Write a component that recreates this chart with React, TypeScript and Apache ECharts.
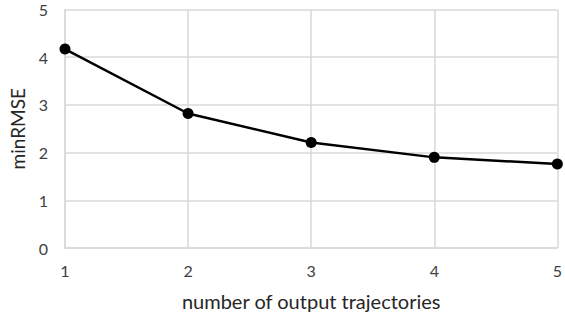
import React, { useEffect, useRef } from "react";
import * as echarts from "echarts";

const xValues = [1, 2, 3, 4, 5];
const minRMSE = [4.17, 2.82, 2.21, 1.9, 1.76];
const xTitle = "number of output trajectories";
const yTitle = "minRMSE";

export default function App() {
  const ref = useRef<HTMLDivElement>(null);
  useEffect(() => {
    if (!ref.current) return;
    const chart = echarts.init(ref.current, undefined, { renderer: "svg" });
    const font = "Lato, 'Open Sans', sans-serif";
    chart.setOption({
      animation: false,
      backgroundColor: "#ffffff",
      grid: { left: 59, right: 5, top: 9.5, bottom: 69, containLabel: false },
      xAxis: {
        type: "value",
        min: 1,
        max: 5,
        interval: 1,
        name: xTitle,
        nameLocation: "middle",
        nameGap: 43,
        nameTextStyle: { fontFamily: font, fontSize: 20, color: "#262626" },
        axisLine: { show: true, lineStyle: { color: "#d9d9d9", width: 1.5 } },
        axisTick: { show: false },
        axisLabel: { fontFamily: font, fontSize: 16, color: "#404040", margin: 14 },
        splitLine: { show: true, lineStyle: { color: "#d9d9d9", width: 1.5 } },
      },
      yAxis: {
        type: "value",
        min: 0,
        max: 5,
        interval: 1,
        name: yTitle,
        nameLocation: "middle",
        nameGap: 38,
        nameRotate: 90,
        nameTextStyle: { fontFamily: font, fontSize: 19, color: "#262626" },
        axisLine: { show: true, lineStyle: { color: "#d9d9d9", width: 1.5 } },
        axisTick: { show: false },
        axisLabel: { fontFamily: font, fontSize: 16, color: "#404040", margin: 17 },
        splitLine: { show: true, lineStyle: { color: "#d9d9d9", width: 1.5 } },
      },
      series: [
        {
          type: "line",
          data: xValues.map((x, i) => [x, minRMSE[i]]),
          symbol: "circle",
          symbolSize: 11,
          lineStyle: { color: "#000", width: 2.5 },
          itemStyle: { color: "#000" },
          clip: false,
        },
      ],
    });
    return () => chart.dispose();
  }, []);
  return <div ref={ref} style={{ width: 565, height: 317, position: "absolute", left: 0, top: 0 }} />;
}
